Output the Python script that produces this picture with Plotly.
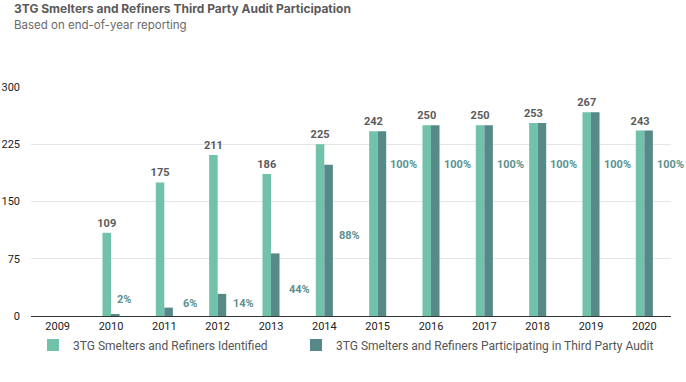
import plotly.graph_objects as go

years = ["2009", "2010", "2011", "2012", "2013", "2014", "2015", "2016", "2017", "2018", "2019", "2020"]
identified = [None, 109, 175, 211, 186, 225, 242, 250, 250, 253, 267, 243]
participating = [None, 2, 11, 29, 82, 198, 242, 250, 250, 253, 267, 243]
pct_labels = [None, "2%", "6%", "14%", "44%", "88%", "100%", "100%", "100%", "100%", "100%", "100%"]
y_ticks = [0, 75, 150, 225, 300]

# label placement (layout only)
pct_label_y = [None, 21, 17, 17, 35, 105, 199, 199, 199, 199, 199, 199]
pct_label_dx = [0, 13, 26, 26, 28, 25, 26, 26, 26, 26, 26, 26]

C_ID = "#72c1aa"
C_PA = "#558a89"
FONT_T = "Inter, Liberation Sans, sans-serif"
FONT = "Roboto, Liberation Sans, sans-serif"
W, H = 686, 382

fig = go.Figure()
fig.add_trace(go.Bar(
    x=years, y=identified, name="3TG Smelters and Refiners Identified",
    marker=dict(color=C_ID, line=dict(width=0)),
    text=[str(v) if v is not None else "" for v in identified],
    textposition="outside", constraintext="none", cliponaxis=False,
    textfont=dict(family=FONT, size=11, color="#5a5a5a", weight="bold"),
    hoverinfo="x+y", legend="legend",
))
fig.add_trace(go.Bar(
    x=years, y=participating, name="3TG Smelters and Refiners Participating in Third Party Audit",
    marker=dict(color=C_PA, line=dict(width=0)),
    hoverinfo="x+y", legend="legend2",
))

for i, (lab, ly, dx) in enumerate(zip(pct_labels, pct_label_y, pct_label_dx)):
    if lab is None:
        continue
    fig.add_annotation(x=i, y=ly, xref="x", yref="y", text="<b>%s</b>" % lab, showarrow=False,
                       xshift=dx, font=dict(family=FONT, size=11, color="#5b9190"))

fig.add_annotation(x=12 / W, y=1 - 9 / H, xref="paper", yref="paper", xanchor="left", yanchor="middle",
                   text="<b>3TG Smelters and Refiners Third Party Audit Participation</b>",
                   showarrow=False, font=dict(family=FONT_T, size=12, color="#5a5a5a"))
fig.add_annotation(x=12 / W, y=1 - 25 / H, xref="paper", yref="paper", xanchor="left", yanchor="middle",
                   text="Based on end-of-year reporting",
                   showarrow=False, font=dict(family=FONT_T, size=11.5, color="#6a6a6a"))

leg_common = dict(orientation="h", yanchor="middle", y=(H - 345) / H, xanchor="left",
                  font=dict(family=FONT, size=12, color="#555"), itemwidth=30,
                  bgcolor="rgba(0,0,0,0)")

fig.update_layout(
    width=W, height=H,
    margin=dict(l=0, r=0, t=0, b=0, autoexpand=False),
    paper_bgcolor="white", plot_bgcolor="white",
    barmode="group", bargap=0.68, bargroupgap=0,
    font=dict(family=FONT, color="#333"),
    showlegend=True,
    legend=dict(leg_common, x=(73 - 40) / W),
    legend2=dict(leg_common, x=(336 - 40) / W),
    xaxis=dict(type="category", domain=[31 / W, 671 / W], range=[-0.5, len(years) - 0.5],
               showline=True, linecolor="#333", linewidth=1,
               showgrid=False, ticks="", tickfont=dict(family=FONT, size=11, color="#222")),
    yaxis=dict(domain=[66 / H, 1 - 87 / H], range=[0, 300], tickvals=y_ticks, showgrid=True,
               gridcolor="#e6e6e6", zeroline=False, showline=False, ticks="",
               ticklabelstandoff=10,
               tickfont=dict(family=FONT, size=11, color="#222")),
)

fig.write_html("out.html", config={"displayModeBar": False},
               post_script="document.body.style.margin='0';")
